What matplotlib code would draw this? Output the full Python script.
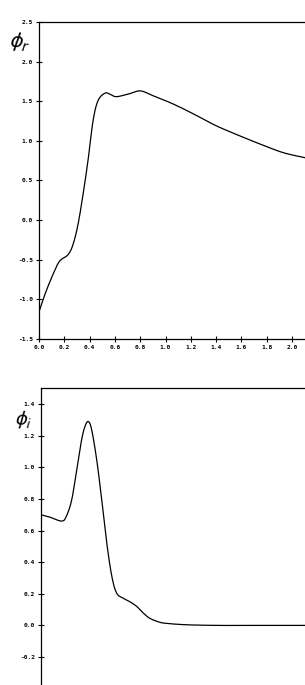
import numpy as np
import matplotlib.pyplot as plt

# phi_r curve (upper panel)
x_r = [0.0, 0.045, 0.11, 0.163, 0.229, 0.269, 0.308, 0.348, 0.387, 0.427, 0.466, 0.52,
       0.56, 0.61, 0.706, 0.80, 0.90, 1.06, 1.22, 1.40, 1.59, 1.75, 1.93, 2.10]
y_r = [-1.16, -0.947, -0.69, -0.52, -0.44, -0.31, -0.06, 0.32, 0.745, 1.25, 1.505, 1.60,
       1.59, 1.557, 1.59, 1.63, 1.57, 1.465, 1.34, 1.19, 1.06, 0.957, 0.85, 0.787]

# phi_i curve (lower panel)
x_i = [0.0, 0.07, 0.163, 0.20, 0.243, 0.282, 0.32, 0.348, 0.374, 0.40, 0.44, 0.48, 0.52,
       0.56, 0.598, 0.65, 0.70, 0.757, 0.81, 0.86, 0.93, 0.99, 1.15, 1.4, 1.7, 2.1]
y_i = [0.70, 0.685, 0.66, 0.69, 0.795, 0.985, 1.17, 1.26, 1.29, 1.24, 1.05, 0.795, 0.52,
       0.31, 0.204, 0.172, 0.151, 0.12, 0.077, 0.045, 0.022, 0.013, 0.004, 0.0, 0.0, 0.0]

xticks = [0.0, 0.2, 0.4, 0.6, 0.8, 1.0, 1.2, 1.4, 1.6, 1.8, 2.0]
yticks_r = [-1.5, -1.0, -0.5, 0.0, 0.5, 1.0, 1.5, 2.0, 2.5]
yticks_i = [-0.2, 0.0, 0.2, 0.4, 0.6, 0.8, 1.0, 1.2, 1.4]


def smooth(xs, ys):
    # Catmull-Rom through the read points
    xs = np.array(xs); ys = np.array(ys)
    px, py = [], []
    for k in range(len(xs) - 1):
        i0 = max(k - 1, 0); i3 = min(k + 2, len(xs) - 1)
        t = np.linspace(0, 1, 20, endpoint=False)
        for arr, out in ((xs, px), (ys, py)):
            a0, a1, a2, a3 = arr[i0], arr[k], arr[k + 1], arr[i3]
            out.extend(0.5 * (2 * a1 + (-a0 + a2) * t + (2 * a0 - 5 * a1 + 4 * a2 - a3) * t ** 2
                              + (-a0 + 3 * a1 - 3 * a2 + a3) * t ** 3))
    px.append(xs[-1]); py.append(ys[-1])
    return px, py


fig = plt.figure(figsize=(3.05, 6.85), dpi=100)
tick_font = dict(fontsize=4.5, fontweight='bold', family='DejaVu Sans Mono')

ax1 = fig.add_axes([39 / 305, 1 - 338.7 / 685, 1.02, (338.7 - 22) / 685])
px, py = smooth(x_r, y_r)
ax1.plot(px, py, color='black', lw=0.9)
ax1.set_xlim(0, 1.02 * 305 / 126.5)
ax1.set_ylim(-1.5, 2.5)
ax1.set_xticks(xticks)
ax1.set_xticklabels(['%.1f' % v for v in xticks], **tick_font)
ax1.set_yticks(yticks_r)
ax1.set_yticklabels(['%.1f' % v for v in yticks_r], **tick_font)
ax1.spines['right'].set_visible(False)

ax2 = fig.add_axes([41 / 305, 0.0, 1.02, (685 - 388.3) / 685])
px, py = smooth(x_i, y_i)
ax2.plot(px, py, color='black', lw=0.9)
ax2.set_xlim(0, 1.02 * 305 / 126.5)
ax2.set_ylim(-0.377, 1.5)
ax2.set_xticks([])
ax2.set_yticks(yticks_i)
ax2.set_yticklabels(['%.1f' % v for v in yticks_i], **tick_font)
ax2.spines['right'].set_visible(False)
ax2.spines['bottom'].set_visible(False)

fig.text(20 / 305, 1 - 42 / 685, r'$\boldsymbol{\phi_r}$', fontsize=14, ha='center', va='center', rotation=-8)
fig.text(24 / 305, 1 - 420 / 685, r'$\boldsymbol{\phi_i}$', fontsize=13, ha='center', va='center', rotation=-5)

for ax in (ax1, ax2):
    ax.tick_params(direction='inout', length=5, width=0.8, pad=2)
    for s in ax.spines.values():
        s.set_linewidth(0.9)

fig.savefig('out.png', dpi=100)
